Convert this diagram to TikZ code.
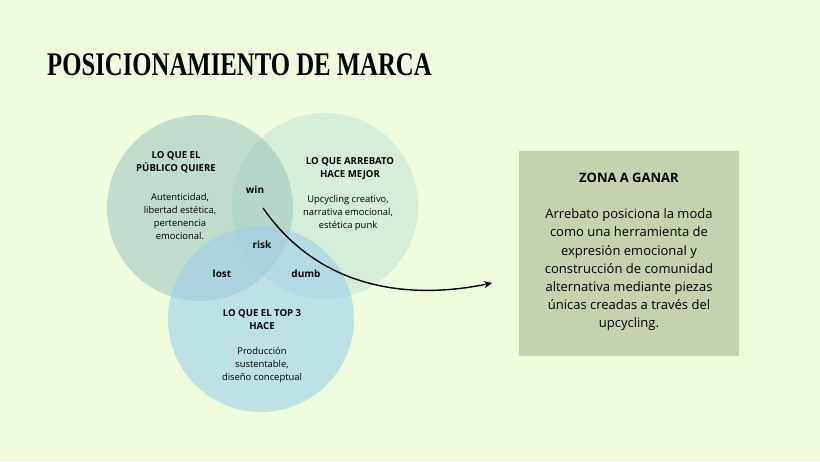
\documentclass[tikz,border=0pt]{standalone}
\usepackage{fontspec}
\setmainfont{Open Sans}
\newfontfamily\titlefont[FakeStretch=0.75]{Liberation Serif}
\usetikzlibrary{arrows.meta}

\definecolor{bgcol}{RGB}{240,252,222}
\definecolor{boxcol}{RGB}{197,210,176}
\definecolor{publico}{RGB}{163,199,193}
\definecolor{arrebato}{RGB}{195,227,215}
\definecolor{topthree}{RGB}{157,207,235}

\tikzset{
	venn/.style={fill opacity=0.6},
	heading/.style={font=\bfseries\fontsize{9.6}{13}\selectfont, align=center},
	detail/.style={font=\fontsize{9.4}{13}\selectfont, align=center},
	zonelabel/.style={font=\bfseries\fontsize{10}{13}\selectfont},
}

\begin{document}
\begin{tikzpicture}[x=1pt, y=-1pt]
		\fill[bgcol] (0, 0) rectangle (820, 461);
		\useasboundingbox (0, 0) rectangle (820, 461);

		\node[anchor=base west, inner sep=0pt, font=\titlefont\bfseries\fontsize{33}{33}\selectfont]
		(title) at (47, 75) {POSICIONAMIENTO DE MARCA};

		% the three circles
		\fill[venn, arrebato] (325, 206) circle[radius=93];
		\fill[venn, publico] (200, 208) circle[radius=93];
		\fill[venn, topthree] (261, 319) circle[radius=93];

		\node[heading] (publicohead) at (176, 162) {LO QUE EL\\PÚBLICO QUIERE};
		\node[detail] (publicotext) at (180, 216) {Autenticidad,\\libertad estética,\\pertenencia\\emocional.};

		\node[heading] (arrebatohead) at (350, 169) {LO QUE ARREBATO\\HACE MEJOR};
		\node[detail] (arrebatotext) at (348, 213) {Upcycling creativo,\\narrativa emocional,\\estética punk};

		\node[heading] (tophead) at (262, 320) {LO QUE EL TOP 3\\HACE};
		\node[detail] (toptext) at (262, 365) {Producción\\sustentable,\\diseño conceptual};

		\node[zonelabel] (win) at (255, 190) {win};
		\node[zonelabel] (risk) at (262, 245) {risk};
		\node[zonelabel] (lost) at (222, 274) {lost};
		\node[zonelabel] (dumb) at (306, 274) {dumb};

		% box on the right
		\node[fill=boxcol, minimum width=220pt, minimum height=205pt] (zona) at (629, 253.5) {};
		\node[font=\bfseries\fontsize{13}{16}\selectfont] (zonahead) at (629, 178) {ZONA A GANAR};
		\node[font=\fontsize{13}{18.2}\selectfont, align=center] (zonatext) at (629, 270)
		{Arrebato posiciona la moda\\como una herramienta de\\expresión emocional y\\construcción de comunidad\\alternativa mediante piezas\\únicas creadas a través del\\upcycling.};

		\coordinate (winpt) at (263, 208);
		\coordinate (zonain) at (492, 283);
		\draw[line width=1.4pt, -{Stealth[length=8pt, width=7pt]}]
		(winpt) .. controls (320, 290) and (410, 300) .. (zonain);
	\end{tikzpicture}
\end{document}
